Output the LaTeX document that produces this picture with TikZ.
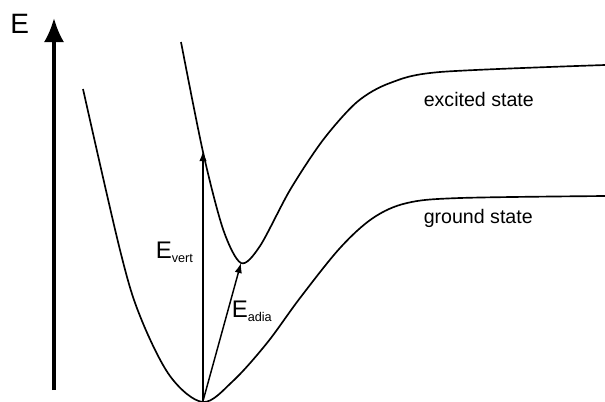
\documentclass[tikz,border=0pt]{standalone}
\usepackage{fontspec}
\setmainfont{Liberation Sans}
\usetikzlibrary{arrows.meta}
\newcommand\mylbl[2]{{\fontsize{18}{18}\selectfont #1}\raisebox{-3pt}{\fontsize{9.5}{10}\selectfont #2}}
\tikzset{
  curve/.style={line width=1.25pt, line join=round},
  trans/.style={line width=1.1pt, -{Latex[length=7.5pt,width=5.5pt]}},
  axis/.style={line width=2.3pt, -{Latex[length=18pt,width=15pt]}},
  lbl/.style={inner sep=0pt, anchor=base west},
  state/.style={inner sep=0pt, anchor=base west, font=\fontsize{14.7}{16}\selectfont}
}
\begin{document}
\begin{tikzpicture}[x=0.75pt, y=-0.75pt]
\useasboundingbox (0,0) rectangle (605,401);
\begin{scope}
\clip (0,0) rectangle (605,401);
% energy axis
\coordinate (axbot) at (54,390);
\coordinate (axtop) at (54,18);
\draw[axis] (axbot) -- (axtop);
\node[lbl, font=\fontsize{21}{21}\selectfont] (E) at (10,33) {E};
% ground state
\draw[curve] plot[smooth, tension=0.55] coordinates {
 (83,89) (120,250) (140,316) (170,376) (203,402) (233,381) (267,343)
 (300,298) (340,248) (373,218) (407,203) (460,198) (605,196)};
% excited state
\draw[curve] plot[smooth, tension=0.5] coordinates {
 (181,42) (203,152) (223,229) (241,263) (260,246) (290,190) (323,140)
 (357,102) (390,83) (440,72) (605,65)};
% transitions
\coordinate (gmin) at (203,401);
\coordinate (evert) at (203,151);
\coordinate (emin) at (241,263);
\draw[trans] (gmin) -- (evert);
\draw[trans] (gmin) -- (emin);
\end{scope}
\node[lbl] (Evert) at (155.5,258) {\mylbl{E}{vert}};
\node[lbl] (Eadia) at (231.5,317) {\mylbl{E}{adia}};
\node[state] (exc) at (423.5,106) {excited state};
\node[state] (gnd) at (423.5,223) {ground state};
\end{tikzpicture}
\end{document}
